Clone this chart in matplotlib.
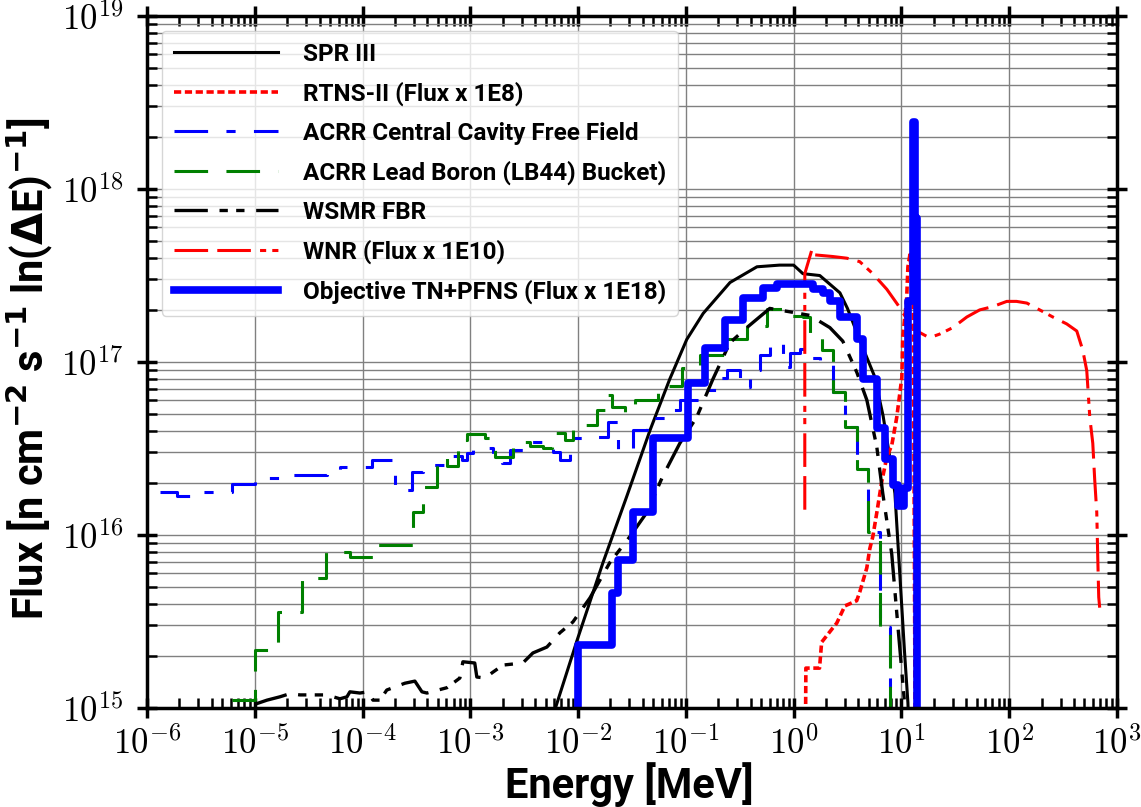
import numpy as np
import matplotlib
matplotlib.use("Agg")
import matplotlib.pyplot as plt
from matplotlib.ticker import LogLocator, FuncFormatter, NullFormatter

plt.rcParams['mathtext.fontset'] = 'cm'

# ---- SPR III (smooth spectrum) ----
spr_e = [6.17e-3, 9.77e-3, 1.70e-2, 2.82e-2, 4.68e-2, 7.08e-2, 0.102, 0.145, 0.257, 0.457,
         0.741, 1.0, 1.22, 1.75, 2.69, 3.16, 4.27, 5.62, 6.76, 7.76, 8.71, 9.66, 10.7, 11.5, 11.7]
spr_f = [1.0e15, 2.45e15, 6.9e15, 1.66e16, 4.07e16, 7.94e16, 1.35e17, 1.91e17, 2.88e17, 3.55e17,
         3.63e17, 3.63e17, 3.24e17, 3.16e17, 2.51e17, 2.04e17, 1.26e17, 8.3e16, 4.9e16, 2.88e16,
         1.74e16, 6.0e15, 2.1e15, 1.07e15, 8.0e14]

# ---- RTNS-II (already scaled x 1E8) ----
rtns_e = [1.29, 1.30, 1.74, 1.82, 2.29, 2.51, 2.99, 3.85, 4.11, 4.78, 5.09, 5.43, 5.92, 6.58,
          7.33, 8.15, 9.06, 10.1, 10.3, 11.2, 11.5, 12.0, 12.9, 13.5]
rtns_f = [7.9e14, 1.70e15, 1.70e15, 2.40e15, 2.88e15, 3.09e15, 3.89e15, 4.17e15, 4.68e15, 6.46e15,
          8.32e15, 9.77e15, 1.35e16, 2.04e16, 2.82e16, 3.31e16, 4.79e16, 8.13e16, 1.38e17, 2.34e17,
          3.55e17, 4.17e17, 2.5e17, 3.0e14]

# ---- ACRR central cavity free field (group structure) ----
cc_edges = [1.32e-6, 1.90e-6, 2.61e-6, 6.14e-6, 1.0e-5, 2.12e-5, 4.67e-5, 6.17e-5, 1.22e-4, 2.00e-4,
            2.87e-4, 3.63e-4, 5.81e-4, 8.36e-4, 9.30e-4, 1.06e-3, 1.62e-3, 1.96e-3, 2.33e-3, 3.07e-3,
            5.84e-3, 6.78e-3, 8.39e-3, 1.49e-2, 1.89e-2, 2.34e-2, 3.22e-2, 4.35e-2, 7.57e-2, 8.80e-2,
            0.144, 0.194, 0.240, 0.317, 0.392, 0.486, 0.601, 0.794, 0.922, 1.14, 1.41, 1.75, 2.31,
            2.99, 3.86, 4.88, 6.30, 7.80]
cc_flux = [1.77e16, 1.68e16, 1.77e16, 1.97e16, 2.13e16, 2.22e16, 2.34e16, 2.47e16, 2.72e16, 1.82e16,
           2.31e16, 2.54e16, 2.86e16, 2.72e16, 2.98e16, 3.18e16, 2.82e16, 2.61e16, 3.10e16, 3.45e16,
           3.02e16, 2.72e16, 3.64e16, 3.68e16, 4.50e16, 3.10e16, 4.05e16, 4.74e16, 5.28e16, 6.03e16,
           6.89e16, 8.09e16, 8.99e16, 7.16e16, 8.99e16, 1.10e17, 1.29e17, 9.35e16, 1.13e17, 1.19e17,
           1.05e17, 9.73e16, 6.71e16, 4.21e16, 2.41e16, 1.04e16, 2.94e15]

# ---- ACRR lead boron (LB44) bucket ----
lb_edges = [6.14e-6, 1.0e-5, 1.64e-5, 2.74e-5, 4.58e-5, 7.64e-5, 1.25e-4, 2.93e-4, 3.63e-4, 4.90e-4,
            6.07e-4, 7.67e-4, 9.30e-4, 1.37e-3, 1.69e-3, 2.48e-3, 2.76e-3, 3.57e-3, 4.72e-3, 5.71e-3,
            7.54e-3, 8.95e-3, 1.0e-2, 1.49e-2, 1.85e-2, 2.06e-2, 2.72e-2, 3.36e-2, 5.50e-2, 9.18e-2,
            0.135, 0.240, 0.368, 0.564, 0.794, 1.22, 1.41, 1.83, 2.31, 2.99, 3.86, 4.88, 6.30, 7.80]
lb_flux = [1.11e15, 2.16e15, 3.59e15, 5.64e15, 7.98e15, 7.46e15, 8.75e15, 1.36e16, 1.89e16, 2.79e16,
           2.51e16, 3.54e16, 3.84e16, 3.64e16, 2.82e16, 3.23e16, 3.45e16, 3.27e16, 3.18e16, 3.89e16,
           3.54e16, 4.15e16, 4.33e16, 5.28e16, 6.44e16, 5.50e16, 5.14e16, 6.03e16, 7.26e16, 9.23e16,
           1.10e17, 1.36e17, 1.61e17, 2.02e17, 1.85e17, 1.82e17, 1.40e17, 1.17e17, 6.71e16, 4.21e16,
           2.41e16, 1.04e16, 2.94e15]

# ---- WSMR FBR ----
wsmr_e = [1.0e-5, 1.30e-5, 1.71e-5, 2.12e-5, 2.63e-5, 4.67e-5, 6.17e-5, 7.17e-5, 7.64e-5, 9.46e-5,
          1.12e-4, 1.25e-4, 1.45e-4, 1.68e-4, 2.47e-4, 3.06e-4, 3.56e-4, 3.96e-4, 6.07e-4, 8.01e-4,
          8.54e-4, 1.10e-3, 1.15e-3, 1.37e-3, 1.62e-3, 2.01e-3, 3.07e-3, 3.81e-3, 5.14e-3, 6.78e-3,
          8.95e-3, 1.29e-2, 1.97e-2, 3.02e-2, 4.35e-2, 6.12e-2, 8.80e-2, 0.126, 0.178, 0.256,
          0.368, 0.601, 0.922, 1.41, 2.17, 2.86, 3.86, 4.78, 5.91, 6.72, 8.14, 9.06, 10.1, 10.8, 11.0]
wsmr_f = [1.05e15, 1.11e15, 1.16e15, 1.21e15, 1.19e15, 1.19e15, 1.13e15, 1.16e15, 1.24e15, 1.22e15,
          1.24e15, 1.11e15, 1.11e15, 1.27e15, 1.39e15, 1.43e15, 1.24e15, 1.22e15, 1.31e15, 1.49e15,
          1.85e15, 1.82e15, 1.51e15, 1.49e15, 1.61e15, 1.77e15, 1.82e15, 2.08e15, 2.25e15, 2.72e15,
          3.14e15, 4.33e15, 6.92e15, 9.77e15, 1.35e16, 2.19e16, 3.39e16, 4.79e16, 7.94e16, 1.29e17,
          1.58e17, 2.04e17, 1.95e17, 1.86e17, 1.58e17, 1.32e17, 8.71e16, 6.03e16, 3.24e16, 1.74e16,
          7.76e15, 3.55e15, 1.62e15, 1.0e15, 6.3e14]

# ---- WNR (already scaled x 1E10) ----
wnr_e = [1.27, 1.27, 1.48, 1.51, 2.31, 3.12, 4.11, 5.43, 7.33, 9.27, 10.7, 12.4, 14.8, 18.2, 22.7,
         30.0, 40.5, 53.3, 70.5, 95.1, 117, 146, 192, 254, 342, 424, 482, 525, 560, 597, 622, 650,
         664, 678, 692]
wnr_f = [1.40e16, 3.24e17, 4.47e17, 4.17e17, 4.07e17, 3.98e17, 3.80e17, 3.24e17, 2.63e17, 2.14e17,
         1.86e17, 1.58e17, 1.48e17, 1.38e17, 1.45e17, 1.58e17, 1.82e17, 2.0e17, 2.09e17, 2.24e17,
         2.24e17, 2.19e17, 2.0e17, 1.82e17, 1.66e17, 1.51e17, 1.17e17, 8.91e16, 4.79e16, 3.39e16,
         2.09e16, 1.35e16, 7.41e15, 4.37e15, 3.80e15]

# ---- Objective TN+PFNS (already scaled x 1E18) ----
obj_edges = [1.0e-2, 2.05e-2, 2.34e-2, 3.22e-2, 4.94e-2, 0.104, 0.150, 0.230, 0.338, 0.518, 0.699,
             1.51, 1.87, 2.17, 2.68, 3.86, 4.39, 5.91, 7.02, 8.32, 9.26, 10.5, 11.5, 12.8, 13.3, 13.9]
obj_flux = [2.31e15, 4.62e15, 7.16e15, 1.35e16, 3.63e16, 7.59e16, 1.20e17, 1.74e17, 2.34e17, 2.69e17,
            2.82e17, 2.63e17, 2.51e17, 2.24e17, 1.82e17, 1.35e17, 7.94e16, 4.17e16, 2.75e16, 1.95e16,
            1.48e16, 1.86e16, 2.24e17, 2.45e18, 6.76e17]

FLOOR = 1e13  # below the plotted range, used to close step histograms


def stair(edges, flux, rise=False, drop=True):
    # turn a group-wise histogram into step coordinates
    x = list(edges)
    y = list(flux) + [flux[-1]]
    if rise:
        x = [edges[0]] + x
        y = [FLOOR] + y
    if drop:
        x = x + [edges[-1]]
        y = y + [FLOOR]
    return x, y


fig = plt.figure(figsize=(11.41, 8.07), dpi=100)
ax = fig.add_axes([0.1288, 0.1227, 0.8501, 0.8575])

ax.plot(spr_e, spr_f, color='black', lw=2.2, label='SPR III')
ax.plot(rtns_e, rtns_f, color='red', lw=2.6, dashes=(2, 1), label='RTNS-II (Flux x 1E8)')
x, y = stair(cc_edges, cc_flux)
ax.step(x, y, where='post', color='blue', lw=2.2, dashes=(11, 6, 3, 6),
        label='ACRR Central Cavity Free Field')
x, y = stair(lb_edges, lb_flux)
ax.step(x, y, where='post', color='green', lw=2.2, dashes=(11, 6),
        label='ACRR Lead Boron (LB44) Bucket)')
ax.plot(wsmr_e, wsmr_f, color='black', lw=2.4, dashes=(10, 3.5, 2.5, 2.5, 2.5, 3.5),
        label='WSMR FBR')
ax.plot(wnr_e, wnr_f, color='red', lw=2.2, dashes=(11, 3, 11, 3, 2, 2, 2, 3),
        label='WNR (Flux x 1E10)')
x, y = stair(obj_edges, obj_flux, rise=True)
ax.step(x, y, where='post', color='blue', lw=5.5, label='Objective TN+PFNS (Flux x 1E18)')

ax.set_xscale('log')
ax.set_yscale('log')
ax.set_xlim(1e-6, 1e3)
ax.set_ylim(1e15, 1e19)

for axis in (ax.xaxis, ax.yaxis):
    axis.set_major_locator(LogLocator(base=10, numticks=30))
    axis.set_minor_locator(LogLocator(base=10, subs=np.arange(2, 10), numticks=300))
    axis.set_minor_formatter(NullFormatter())
    axis.set_major_formatter(FuncFormatter(lambda v, p: r'$10^{%d}$' % round(np.log10(v))))

ax.tick_params(which='major', direction='inout', length=14, width=2.5,
               top=True, right=True, labelsize=25)
ax.tick_params(axis='x', which='major', pad=6)
ax.tick_params(axis='y', which='major', pad=10)
ax.tick_params(which='minor', direction='in', length=7, width=1.8, top=True, right=True)
for sp in ax.spines.values():
    sp.set_linewidth(2.5)

ax.grid(which='major', axis='both', color='0.5', lw=1.0)
ax.grid(which='minor', axis='y', color='0.5', lw=1.0)
ax.set_axisbelow(True)

ax.set_xlabel('Energy [MeV]', family='Roboto', weight='bold', fontsize=30)
ax.set_ylabel(r'Flux [n cm$^{\mathbf{-2}}$ s$^{\mathbf{-1}}$ ln($\mathbf{\Delta}$E)$^{\mathbf{-1}}$]',
              family='Roboto', weight='bold', fontsize=30, math_fontfamily='dejavusans')
ax.xaxis.set_label_coords(0.497, -0.078)
ax.yaxis.set_label_coords(-0.095, 0.49)

ax.legend(loc='upper left', prop=dict(family='Roboto', weight='bold', size=17.5),
          handlelength=4.3, handletextpad=1.0, labelspacing=0.65, borderaxespad=0.6,
          framealpha=0.8, fancybox=True, borderpad=0.5)

fig.savefig('out.png', dpi=100)
